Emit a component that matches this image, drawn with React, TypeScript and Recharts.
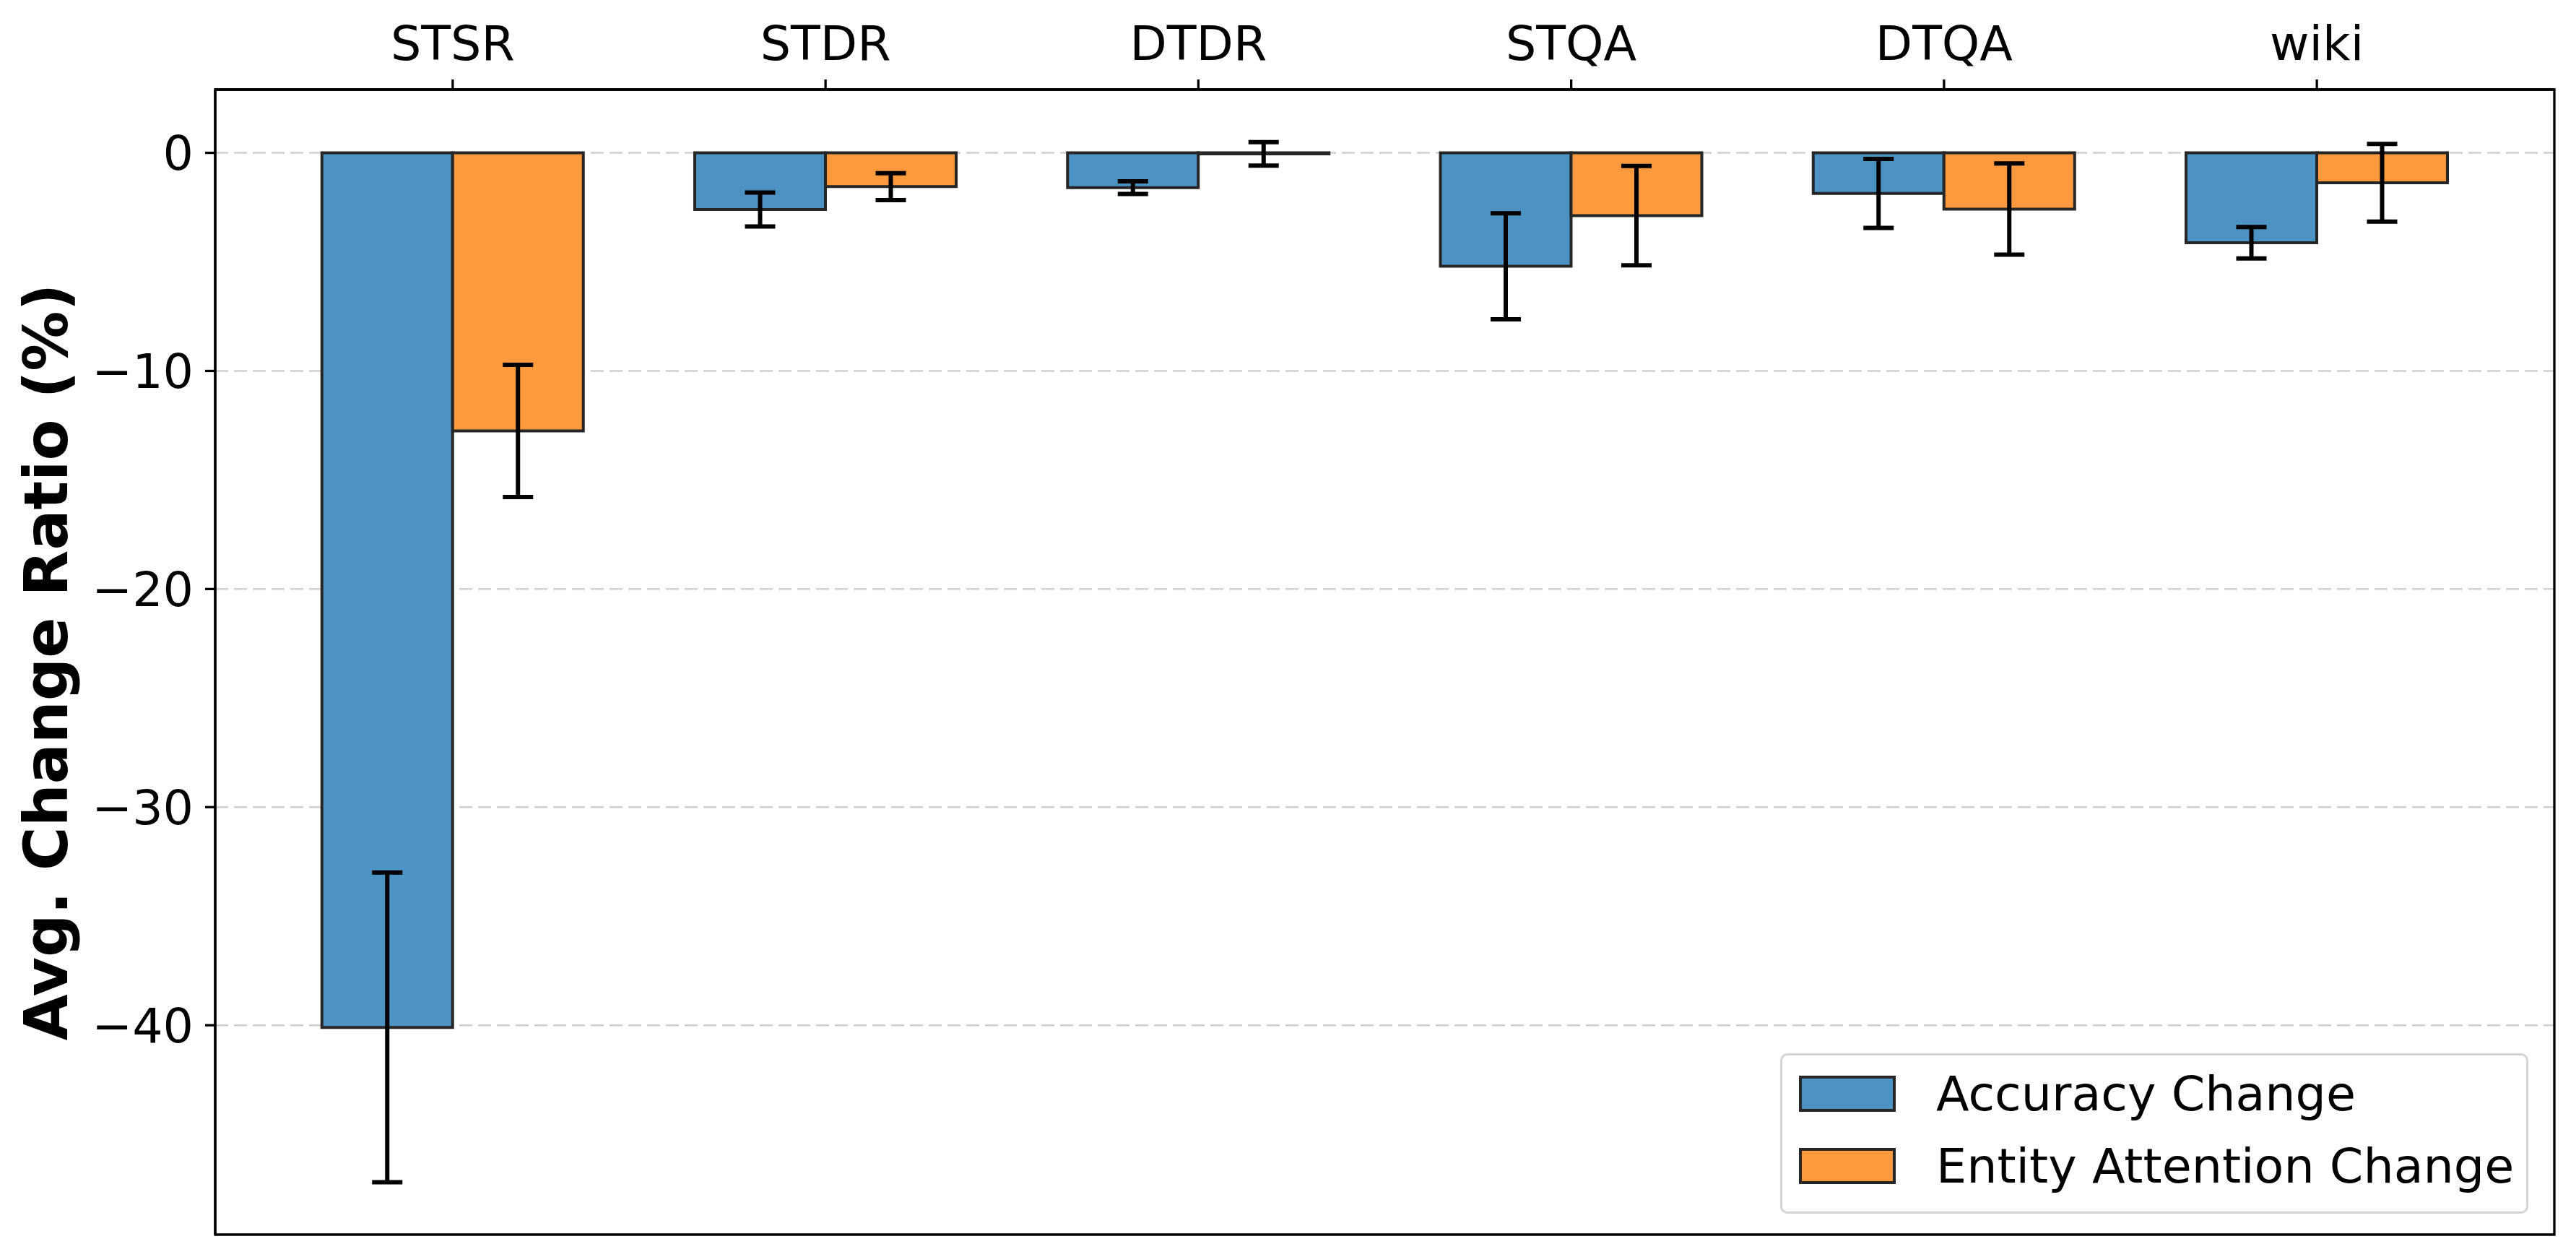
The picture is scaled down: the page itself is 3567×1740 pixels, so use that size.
import React from "react";
import { BarChart, Bar, XAxis, YAxis, CartesianGrid, ErrorBar, Legend, ReferenceArea } from "recharts";

const categories = ["STSR", "STDR", "DTDR", "STQA", "DTQA", "wiki"];
const accuracyChange = [-40.1, -2.6, -1.6, -5.2, -1.86, -4.12];
const accuracyErr = [7.1, 0.78, 0.29, 2.43, 1.58, 0.72];
const attentionChange = [-12.75, -1.55, -0.05, -2.88, -2.58, -1.37];
const attentionErr = [3.03, 0.62, 0.54, 2.28, 2.09, 1.78];
const yTicks = [-40, -30, -20, -10, 0];
const xTicks = [0, 1, 2, 3, 4, 5];

const series = [
  { name: "Accuracy Change", color: "#4c92c3" },
  { name: "Entity Attention Change", color: "#ff993e" },
];

const data = categories.map((c, i) => ({
  x: i,
  name: c,
  acc: accuracyChange[i],
  accErr: accuracyErr[i],
  att: attentionChange[i],
  attErr: attentionErr[i],
}));

const FONT = "'DejaVu Sans', sans-serif";
const xDomain: [number, number] = [-0.637, 5.637];
const yDomain: [number, number] = [-49.6, 2.9];

const fmtY = (v: number) => String(v).replace("-", "\u2212");

function LegendBox() {
  return (
    <div
      style={{
        boxSizing: "border-box",
        width: 1036,
        height: 222,
        border: "3px solid #d4d4d4",
        borderRadius: 10,
        background: "rgba(255,255,255,0.8)",
        padding: "3px 0 0 23px",
        fontFamily: FONT,
      }}
    >
      {series.map((s) => (
        <div key={s.name} style={{ display: "flex", alignItems: "center", height: 100 }}>
          <div
            style={{
              boxSizing: "border-box",
              width: 134,
              height: 50,
              background: s.color,
              border: "4px solid #262626",
            }}
          />
          <span style={{ marginLeft: 56, fontSize: 66.7, color: "#000", whiteSpace: "nowrap" }}>{s.name}</span>
        </div>
      ))}
    </div>
  );
}

const YLabel = (props: any) => {
  const vb = props.viewBox || { y: 124, height: 1585 };
  const cy = vb.y + vb.height / 2;
  const cx = 93;
  return (
    <text
      x={cx}
      y={cy}
      transform={`rotate(-90, ${cx}, ${cy})`}
      textAnchor="middle"
      fontFamily={FONT}
      fontWeight="bold"
      fontSize={83}
      fill="#000"
    >
      Avg. Change Ratio (%)
    </text>
  );
};

export default function App() {
  const tickStyle = { fontSize: 66.7, fill: "#000", fontFamily: FONT };
  const line = { stroke: "#000", strokeWidth: 3.3 };
  return (
    <div style={{ position: "absolute", left: 0, top: 0, width: 3567, height: 1740, background: "#fff" }}>
      <BarChart
        width={3567}
        height={1740}
        data={data}
        margin={{ top: 24, right: 30, bottom: 31, left: 98 }}
        barGap={0}
      >
        <CartesianGrid vertical={false} stroke="#d0d0d0" strokeWidth={2.5} strokeDasharray="18 8" horizontalValues={yTicks} />
        <XAxis
          type="number"
          dataKey="x"
          orientation="top"
          height={100}
          domain={xDomain}
          ticks={xTicks}
          allowDataOverflow
          tickFormatter={(i: number) => categories[i] ?? ""}
          tick={tickStyle}
          tickLine={line}
          axisLine={line}
          tickSize={14}
          tickMargin={27}
        />
        <YAxis
          type="number"
          domain={yDomain}
          ticks={yTicks}
          allowDataOverflow
          width={200}
          tickFormatter={fmtY}
          tick={tickStyle}
          tickLine={line}
          axisLine={line}
          tickSize={14}
          tickMargin={16}
          label={{ content: YLabel }}
        />
        <Bar dataKey="acc" name={series[0].name} fill={series[0].color} stroke="#262626" strokeWidth={4} barSize={181} isAnimationActive={false}>
          <ErrorBar dataKey="accErr" width={21} strokeWidth={6} stroke="#000" direction="y" />
        </Bar>
        <Bar dataKey="att" name={series[1].name} fill={series[1].color} stroke="#262626" strokeWidth={4} barSize={181} isAnimationActive={false}>
          <ErrorBar dataKey="attErr" width={21} strokeWidth={6} stroke="#000" direction="y" />
        </Bar>
        <ReferenceArea
          x1={xDomain[0]}
          x2={xDomain[1]}
          y1={yDomain[0]}
          y2={yDomain[1]}
          fill="none"
          fillOpacity={0}
          stroke="#000"
          strokeWidth={3.3}
          ifOverflow="visible"
        />
        <Legend
          layout="vertical"
          align="center"
          verticalAlign="middle"
          wrapperStyle={{ left: 2465, top: 1458, width: 1036, height: 222 }}
          content={() => <LegendBox />}
        />
      </BarChart>
    </div>
  );
}
